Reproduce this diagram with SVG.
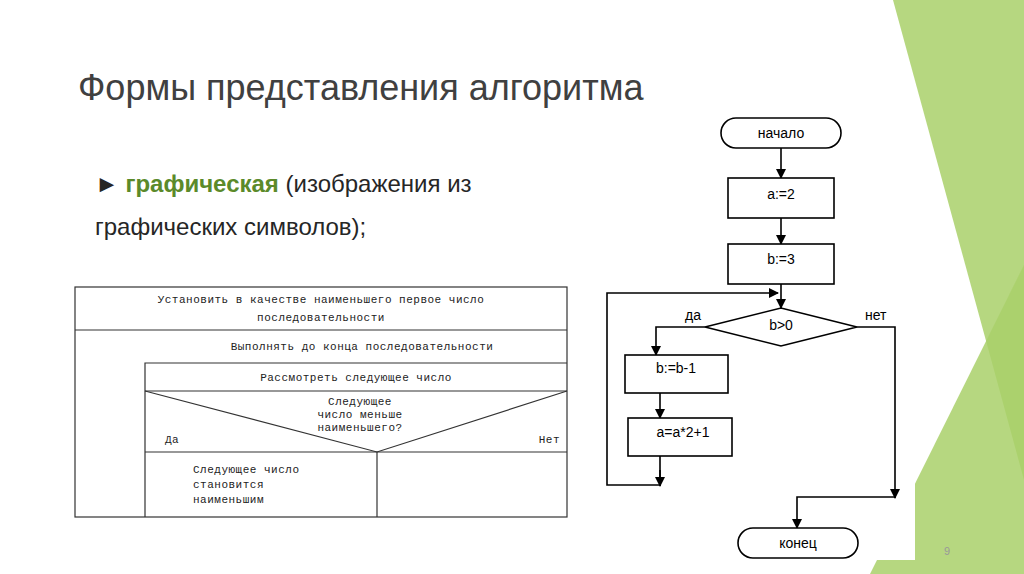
<svg xmlns="http://www.w3.org/2000/svg" width="1024" height="574" viewBox="0 0 1024 574">
<defs>
<marker id="ar" markerWidth="10" markerHeight="10" refX="9" refY="5" orient="auto" markerUnits="userSpaceOnUse"><path d="M0,0 L10,5 L0,10 z" fill="#000"/></marker>
<style>
.t{font-family:"Liberation Sans",Arial,sans-serif;fill:#000}
.tb{font-family:"Liberation Mono",monospace;font-size:11px;fill:#222;letter-spacing:0.5px}
.s{fill:#fff;stroke:#000;stroke-width:1.6}
.c{fill:none;stroke:#000;stroke-width:1.6}
.ln{fill:none;stroke:#333;stroke-width:1.2}
</style>
</defs>
<rect width="1024" height="574" fill="#fff"/>
<g id="deco">
<polygon points="893,0 1024,0 1024,480" fill="#a9d06a" opacity="0.85"/>
<polygon points="1024,265 870,574 1024,574" fill="#a9d06a" opacity="0.85"/>
</g>
<text x="78" y="100" class="t" font-size="36" style="fill:#404040">Формы представления алгоритма</text>
<text x="95" y="192" class="t" font-size="24" style="fill:#262626">► <tspan font-weight="bold" fill="#5b8a2a">графическая</tspan> (изображения из</text>
<text x="95" y="235" class="t" font-size="24" style="fill:#262626">графических символов);</text>
<g id="nsd">
<rect x="75" y="287" width="492" height="230" class="ln" fill="#fff"/>
<line x1="75" y1="330" x2="567" y2="330" class="ln"/>
<text x="321" y="303" class="tb" text-anchor="middle">Установить в качестве наименьшего первое число</text>
<text x="321" y="321" class="tb" text-anchor="middle">последовательности</text>
<text x="362" y="350" class="tb" text-anchor="middle">Выполнять до конца последовательности</text>
<polyline points="145,517 145,363 567,363" class="ln"/>
<line x1="145" y1="391" x2="567" y2="391" class="ln"/>
<text x="356" y="381" class="tb" text-anchor="middle">Рассмотреть следующее число</text>
<polyline points="145,391 377,452 567,391" class="ln"/>
<text x="360" y="405" class="tb" text-anchor="middle">Следующее</text>
<text x="360" y="418" class="tb" text-anchor="middle">число меньше</text>
<text x="360" y="431" class="tb" text-anchor="middle">наименьшего?</text>
<text x="165" y="443" class="tb">Да</text>
<text x="560" y="443" class="tb" text-anchor="end">Нет</text>
<line x1="145" y1="452" x2="567" y2="452" class="ln"/>
<line x1="377" y1="452" x2="377" y2="517" class="ln"/>
<text x="193" y="473" class="tb">Следующее число</text>
<text x="193" y="488" class="tb">становится</text>
<text x="193" y="503" class="tb">наименьшим</text>
</g>
<rect x="585" y="110" width="330" height="450" fill="#fff"/>
<g id="connectors">
<line x1="781" y1="148" x2="781" y2="178" class="c" marker-end="url(#ar)"/>
<line x1="781" y1="218" x2="781" y2="244" class="c" marker-end="url(#ar)"/>
<line x1="781" y1="284" x2="781" y2="308" class="c" marker-end="url(#ar)"/>
<polyline points="660,456 660,485 607,485 607,293 778,293" class="c" marker-end="url(#ar)"/>
<line x1="660" y1="470" x2="660" y2="486" class="c" marker-end="url(#ar)"/>
<polyline points="705,327 656,327 656,355" class="c" marker-end="url(#ar)"/>
<line x1="660" y1="393" x2="660" y2="418" class="c" marker-end="url(#ar)"/>
<polyline points="857,327 895,327 895,498" class="c" marker-end="url(#ar)"/>
<polyline points="895,497 797,497 797,528" class="c" marker-end="url(#ar)"/>
<text x="685" y="320" class="t" font-size="14">да</text>
<text x="865" y="320" class="t" font-size="14">нет</text>
</g>
<g id="start"><rect x="721" y="118" width="120" height="30" rx="15" class="s"/><text x="781" y="138" class="t" font-size="14" text-anchor="middle">начало</text></g>
<g id="a2"><rect x="728" y="178" width="106" height="40" class="s"/><text x="781" y="199" class="t" font-size="14" text-anchor="middle">a:=2</text></g>
<g id="b3"><rect x="728" y="244" width="106" height="40" class="s"/><text x="781" y="264" class="t" font-size="14" text-anchor="middle">b:=3</text></g>
<g id="cond"><polygon points="705,327 781,308 857,327 781,346" class="s"/><text x="781" y="330" class="t" font-size="14" text-anchor="middle">b&gt;0</text></g>
<g id="bdec"><rect x="625" y="355" width="103" height="38" class="s"/><text x="676" y="373" class="t" font-size="14" text-anchor="middle">b:=b-1</text></g>
<g id="aupd"><rect x="628" y="418" width="104" height="38" class="s"/><text x="683" y="437" class="t" font-size="14" text-anchor="middle">a=a*2+1</text></g>
<g id="end"><rect x="738" y="528" width="120" height="30" rx="15" class="s"/><text x="798" y="548" class="t" font-size="14" text-anchor="middle">конец</text></g>
<text x="944" y="555" class="t" font-size="11" style="fill:#999">9</text>
</svg>
